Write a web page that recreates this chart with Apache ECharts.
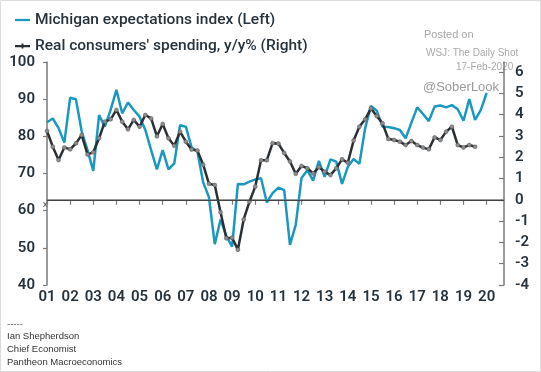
<!DOCTYPE html>
<html><head><meta charset="utf-8">
<script src="https://cdn.jsdelivr.net/npm/echarts@6/dist/echarts.min.js"></script>
<style>html,body{margin:0;padding:0;background:#fff}#c{width:541px;height:372px}</style>
</head><body><div id="c"></div>
<script>
// Time categories: quarters 2001Q1 .. 2020Q4
const years = [2001,2002,2003,2004,2005,2006,2007,2008,2009,2010,2011,2012,2013,2014,2015,2016,2017,2018,2019,2020];
const quarters = [];
years.forEach(y => { for (let q = 1; q <= 4; q++) quarters.push(y + 'Q' + q); });

// Michigan expectations index (Left), quarterly 2001Q1..2020Q1
const michigan = [
  83.8, 84.8, 82.2, 78.3,
  90.4, 90.0, 81.3, 76.3,
  70.7, 85.7, 82.6, 87.1,
  92.5, 86.2, 89.1, 87.1,
  85.3, 81.7, 76.3, 71.1,
  76.3, 71.1, 72.7, 83.0,
  82.6, 77.0, 75.9, 67.6,
  63.6, 51.0, 57.6, 53.2,
  50.3, 67.2, 67.1, 67.8,
  68.4, 68.7, 62.2, 64.7,
  66.2, 65.5, 50.8, 56.2,
  68.8, 70.9, 68.1, 73.4,
  69.1, 73.8, 73.2, 67.2,
  71.8, 73.9, 72.6, 82.2,
  88.2, 86.9, 82.6, 82.5,
  82.2, 81.7, 79.5, 83.7,
  87.8, 86.0, 84.1, 88.0,
  88.3, 87.8, 88.4, 87.3,
  84.2, 90.0, 84.4, 87.1,
  91.7
];

// Real consumers' spending, y/y% (Right), quarterly 2001Q1..2019Q3
const spending = [
  3.23, 2.49, 1.87, 2.46,
  2.37, 2.65, 3.04, 2.13,
  2.23, 2.89, 3.67, 3.78,
  4.22, 3.67, 3.31, 3.75,
  3.43, 3.98, 3.82, 2.98,
  3.56, 2.89, 2.54, 3.20,
  2.73, 2.36, 2.31, 1.65,
  0.75, 0.69, -0.58, -1.81,
  -1.78, -2.34, -0.92, -0.09,
  0.62, 1.86, 1.86, 2.66,
  2.64, 2.20, 1.80, 1.22,
  1.59, 1.48, 1.24, 1.53,
  1.32, 1.16, 1.48, 1.90,
  1.74, 2.78, 3.43, 3.78,
  4.29, 3.93, 3.59, 2.86,
  2.81, 2.73, 2.57, 2.76,
  2.57, 2.45, 2.37, 2.93,
  2.81, 3.20, 3.43, 2.57,
  2.46, 2.57, 2.49
];

const leftTicks = [40, 50, 60, 70, 80, 90, 100];
const rightTicks = [-4, -3, -2, -1, 0, 1, 2, 3, 4, 5, 6];
const legendNames = ['Michigan expectations index (Left)', "Real consumers' spending, y/y% (Right)"];
const footer = ['-----', 'Ian Shepherdson', 'Chief Economist', 'Pantheon Macroeconomics'];
const watermark = ['Posted on', 'WSJ: The Daily Shot', '17-Feb-2020', '@SoberLook'];

const FONT = 'Roboto';
const TXT = '#26333c';
const AX = '#7a7a7a';
const BLUE = '#1a98c0';
const DARK = '#2b3034';

function txt(x, y, s, size, color) {
  return {type: 'text', x: x, y: y, silent: true,
    style: {text: s, font: size + 'px "Liberation Sans"', fill: color, verticalAlign: 'middle', align: 'left'}};
}

const chart = echarts.init(document.getElementById('c'), null, {renderer: 'canvas'});
chart.setOption({
  animation: false,
  backgroundColor: '#fff',
  grid: {left: 47, right: 37, top: 62, bottom: 87},
  legend: {
    orient: 'vertical', left: 10, top: 5, itemGap: 6,
    itemWidth: 15, itemHeight: 10,
    textStyle: {fontFamily: FONT, fontSize: 15.5, fontWeight: 500, color: TXT, lineHeight: 20},
    data: [
      {name: legendNames[0], icon: 'path://M0,4H16V6.4H0Z', itemStyle: {color: BLUE}},
      {name: legendNames[1], icon: 'path://M0,4H16V6.4H0Z M7,2.6H9V7.8H7Z', itemStyle: {color: DARK, borderWidth: 0}}
    ]
  },
  xAxis: {
    type: 'category', data: quarters, boundaryGap: false,
    axisLine: {lineStyle: {color: AX, width: 1.5}},
    axisTick: {interval: (i) => i % 4 === 0, length: 5, lineStyle: {color: AX, width: 1.2}},
    axisLabel: {interval: (i) => i % 4 === 0, formatter: (v) => v.slice(2, 4),
      fontFamily: FONT, fontSize: 15, fontWeight: 600, color: TXT, margin: 5},
    splitLine: {show: false}
  },
  yAxis: [
    {type: 'value', position: 'left', min: 40, max: 100, interval: 10,
      axisLine: {show: true, lineStyle: {color: AX, width: 1.5}},
      axisTick: {show: true, length: 4, lineStyle: {color: AX, width: 1.2}, customValues: leftTicks},
      axisLabel: {customValues: leftTicks, fontFamily: FONT, fontSize: 15, fontWeight: 600, color: TXT, margin: 12},
      splitLine: {show: false}},
    {type: 'value', position: 'right', min: -4, max: 6.47, interval: 1,
      axisLine: {show: true, lineStyle: {color: AX, width: 1.5}},
      axisTick: {show: true, inside: true, length: 5, lineStyle: {color: AX, width: 1.2}, customValues: rightTicks},
      axisLabel: {customValues: rightTicks, fontFamily: FONT, fontSize: 15, fontWeight: 600, color: TXT, margin: 11},
      splitLine: {show: false}}
  ],
  series: [
    {name: legendNames[0], type: 'line', yAxisIndex: 0, data: michigan,
      symbol: 'none', lineStyle: {color: BLUE, width: 2.5}, itemStyle: {color: BLUE}, z: 2},
    {name: legendNames[1], type: 'line', yAxisIndex: 1, data: spending,
      symbol: 'circle', symbolSize: 4, showSymbol: true, showAllSymbol: true,
      lineStyle: {color: DARK, width: 2.5},
      itemStyle: {color: '#8c8c8c', borderColor: '#555', borderWidth: 0.5}, z: 3,
      markLine: {silent: true, symbol: 'none', label: {show: false},
        lineStyle: {color: '#444', width: 1, type: 'solid'}, data: [{yAxis: 0}]}}
  ],
  graphic: [
    {type: 'rect', shape: {x: 0.5, y: 0.5, width: 540, height: 371}, style: {fill: 'none', stroke: '#dcdcdc', lineWidth: 1}, silent: true},
    txt(424, 35, watermark[0], 11, '#a8a8a8'),
    txt(426, 53, watermark[1], 10, '#a8a8a8'),
    txt(456, 67, watermark[2], 10, '#a8a8a8'),
    txt(423, 87, watermark[3], 13, '#9a9a9a'),
    txt(43, 205, 'x', 9, '#333'),
    txt(7, 324, footer[0], 9.5, '#555'),
    txt(7, 336.5, footer[1], 9.5, '#333'),
    txt(7, 349, footer[2], 9.5, '#333'),
    txt(7, 362.5, footer[3], 9.5, '#333')
  ]
});
</script>
</body></html>
